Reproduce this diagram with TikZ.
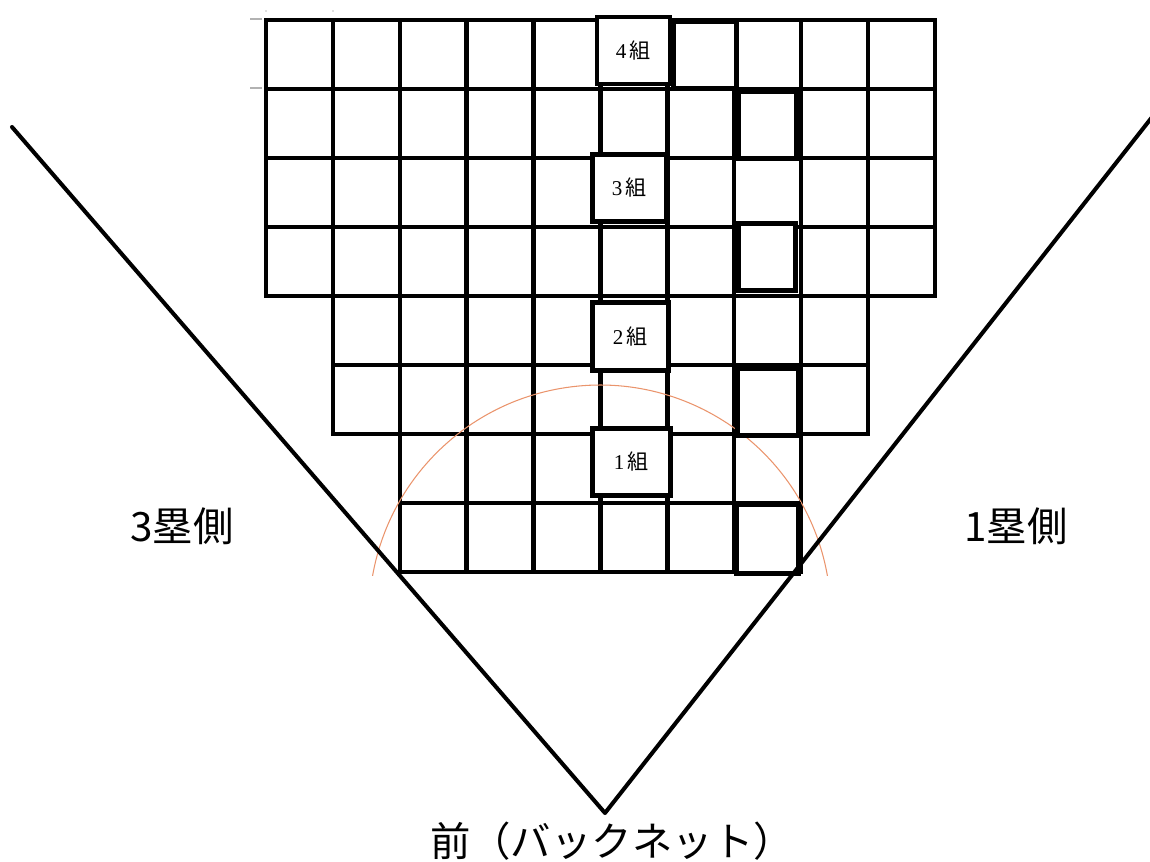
\documentclass[tikz,border=0pt]{standalone}
\usepackage{fontspec}
\setmainfont{Liberation Serif}
\newfontfamily\jpfont{Noto Sans CJK JP}
\definecolor{arccol}{RGB}{234,148,108}
\begin{document}
\begin{tikzpicture}[x=0.02cm,y=-0.02cm,
    cell/.style={draw,line width=2.5pt},
    vline/.style={line width=2.3pt,line join=round,line cap=round},
    side/.style={font=\jpfont\fontsize{23}{26}\selectfont}]

      \useasboundingbox (0,0) rectangle (1150,862);

      % seat grid
      \begin{scope}[shift={(266,20)},x=1.338cm,y=-1.38cm]
        \foreach \r in {0,...,3}
          \foreach \c in {0,...,9}
            \draw[cell] (\c,\r) rectangle ++(1,1);
        \foreach \r in {4,5}
          \foreach \c in {1,...,8}
            \draw[cell] (\c,\r) rectangle ++(1,1);
        \foreach \r in {6,7}
          \foreach \c in {2,...,7}
            \draw[cell] (\c,\r) rectangle ++(1,1);
      \end{scope}

      \draw[gray!60,line width=0.6pt] (250,19) -- (262,19) (250,88) -- (262,88);
      \fill[gray!50] (266,11) circle[radius=0.5pt] (333,11) circle[radius=0.5pt];

      \coordinate (o) at (600,616);
      \draw[arccol,line width=0.6pt] (o) ++(10:4.62cm) arc[start angle=10,end angle=170,radius=4.62cm];

      \begin{scope}[every node/.style={draw,fill=white,line width=2.6pt,inner sep=0pt,
          font=\fontsize{12}{12}\selectfont}]
        \node[minimum width=1.46cm,minimum height=1.34cm] (4) at (633.5,50.5) {4\,{\jpfont 組}};
        \node[minimum width=1.48cm,minimum height=1.34cm] (3) at (629.5,188) {3\,{\jpfont 組}};
        \node[minimum width=1.52cm,minimum height=1.36cm] (2) at (630.5,336.5) {2\,{\jpfont 組}};
        \node[minimum width=1.56cm,minimum height=1.34cm] (1) at (631.5,462) {1\,{\jpfont 組}};
        \node[minimum width=1.26cm,minimum height=1.34cm] (5) at (705,55) {};
        \node[minimum width=1.16cm,minimum height=1.34cm] (6) at (767.5,125) {};
        \node[minimum width=1.14cm,minimum height=1.34cm] (7) at (767,257) {};
        \node[minimum width=1.22cm,minimum height=1.34cm] (8) at (768,402) {};
        \node[minimum width=1.24cm,minimum height=1.38cm] (9) at (767.5,539) {};
      \end{scope}

      \coordinate (L) at (12,127);
      \coordinate (H) at (605,813);
      \coordinate (R) at (1160,107);
      \draw[vline] (L) -- (H) -- (R);

      \node[side] (third) at (182,526) {3塁側};
      \node[side] (first) at (1016,526) {1塁側};
      \node[side] (front) at (612,841) {前（バックネット）};

    \end{tikzpicture}
\end{document}
